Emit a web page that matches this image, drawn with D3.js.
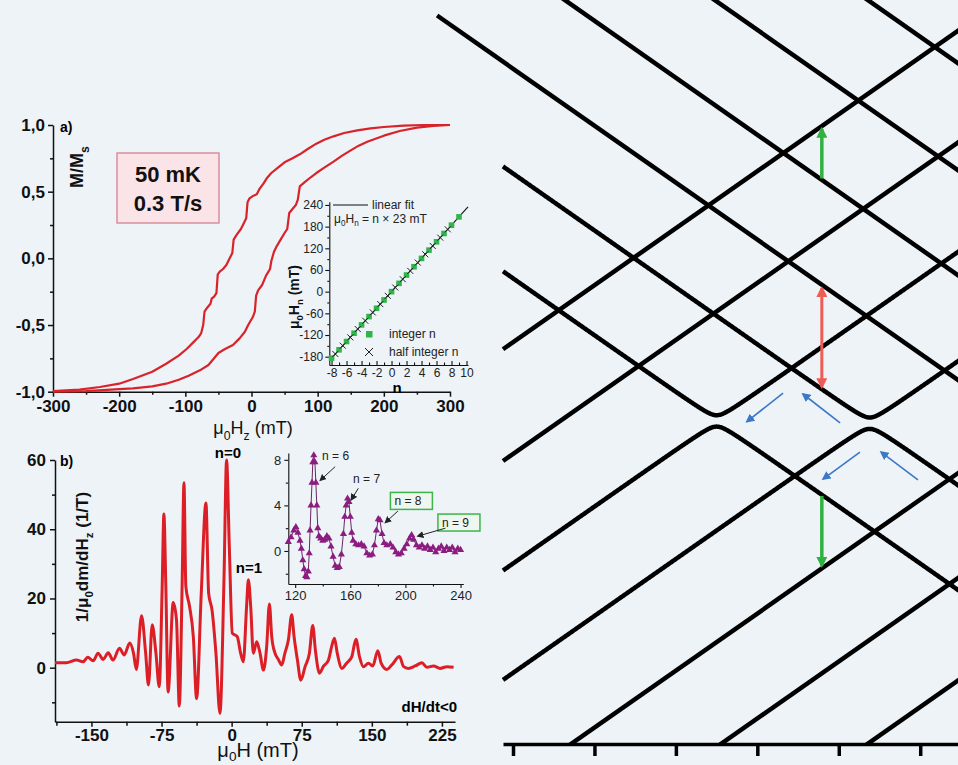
<!DOCTYPE html>
<html lang="en">
<head>
<meta charset="UTF-8">
<title>Ho:LiYF4 hysteresis and level diagram</title>
<script src="https://d3js.org/d3.v7.min.js"></script>
<style>
  body { margin: 0; background: #edf3f7; }
</style>
</head>
<body>
<script>
// ---------- data ----------
// a) hysteresis loop (mT, M/Ms)
var downH = [-300,-260,-229,-200,-179,-150,-129,-110,-98,-88,-80,-76,-73,-71,-67,-62,-60,-57,-53,-51,
             -48,-43,-38,-33,-29,-27,-22,-16,-12,-8,-6,-3,3,8,12,18,23,30,40,50,
             62,73,85,98,110,124,140,160,180,200,230,260,300];
var downM = [-0.995,-0.985,-0.965,-0.94,-0.905,-0.85,-0.79,-0.73,-0.68,-0.63,-0.59,-0.56,-0.50,-0.40,-0.37,-0.34,-0.30,-0.29,-0.26,-0.12,
             -0.10,-0.08,-0.05,0.0,0.04,0.14,0.18,0.22,0.26,0.30,0.42,0.45,0.47,0.48,0.52,0.56,0.60,0.64,0.68,0.72,
             0.75,0.78,0.82,0.86,0.89,0.915,0.94,0.96,0.975,0.985,0.995,1.0,1.0];
var upH = [-300,-250,-200,-179,-150,-129,-110,-95,-78,-65,-55,-50,-40,-28,-18,-10,-5,2,5,7,
           10,16,22,28,30,34,38,44,50,54,57,62,67,70,73,80,90,98,110,124,
           137,150,162,175,200,224,250,275,300];
var upM = [-1.0,-0.995,-0.98,-0.975,-0.96,-0.94,-0.91,-0.88,-0.84,-0.80,-0.74,-0.71,-0.68,-0.65,-0.60,-0.55,-0.50,-0.44,-0.40,-0.28,
           -0.24,-0.20,-0.13,-0.08,-0.02,0.05,0.09,0.14,0.19,0.22,0.34,0.37,0.40,0.44,0.54,0.57,0.61,0.64,0.68,0.725,
           0.77,0.81,0.845,0.875,0.92,0.955,0.98,0.993,1.0];
var aXTicks = [-300,-200,-100,0,100,200,300];
var aXMinor = [-250,-150,-50,50,150,250];
var aYTicks = [-1,-0.5,0,0.5,1];
var aYMinor = [-0.75,-0.25,0.25,0.75];

// a) inset: resonance fields
var intN = [-8,-7,-6,-5,-4,-3,-2,-1,0,1,2,3,4,5,6,7,8,9];
var intField = [-184,-161,-138,-115,-92,-69,-46,-23,0,23,46,69,92,115,138,161,184,207];
var halfN = [-7.5,-6.5,-5.5,-4.5,-3.5,-2.5,-1.5,-0.5,0.5,1.5,2.5,3.5,4.5,5.5,6.5,7.5];
var halfField = [-172.5,-149.5,-126.5,-103.5,-80.5,-57.5,-34.5,-11.5,11.5,34.5,57.5,80.5,103.5,126.5,149.5,172.5];
var fitN = [-8.3, 10.2];
var fitField = [-191, 235];
var iXTicks = [-8,-6,-4,-2,0,2,4,6,8,10];
var iYTicks = [-180,-120,-60,0,60,120,180,240];

// b) derivative dM/dH
var bField = [-189,-177,-166,-159,-154,-148,-143,-137.5,-132,-127,-120,-115,-109,-105,-102,-96.4,-92,-89,-85,-81,
              -77.5,-74.3,-72.5,-70.4,-68,-62.5,-59,-56,-53,-51,-49,-45,-41,-37.5,-32.5,-27.5,-24.6,-21,-16.8,-12.5,
              -8.2,-5.4,-2.5,0.7,6,9.6,12.5,16,17.9,20.4,23.2,26.8,30.4,34,37.5,40.4,42.9,46.4,50,53.6,
              57,60.7,64.3,66.8,70.4,74,78.6,83.2,86.8,89.6,94,98,103.6,107,110,113,118,123,128.6,133,
              136.8,141,146.4,151,156.4,160,166,171.4,179.6,184,189,196.4,203.6,209,216,223,230.4,237.5];
var bSignal = [1.4,1.4,2.2,1.7,3.0,2.0,4.2,2.4,4.3,2.2,5.6,3.7,7.1,4.2,-0.5,15.0,4.2,-5.0,12.4,4.2,
               -5.5,23.5,44.4,23.5,-7.0,18.8,13.8,-11.1,23.5,53.4,23.5,17.7,9.0,-8.9,21.5,47.6,21.5,16.7,4.2,-13.2,
               25.4,60.0,35.1,10.0,9.0,4.2,1.7,17.7,25.4,17.7,4.2,7.5,4.2,-0.7,6.1,18.4,9.0,4.2,2.4,0.8,
               4.2,8.0,15.3,9.0,2.2,-3.6,0.3,4.2,12.2,5.1,-1.6,0.3,2.2,6.1,8.5,4.2,-0.2,1.3,3.2,8.2,
               3.2,0.3,1.3,0.5,4.9,1.3,-0.5,0.8,3.2,0.3,-0.2,0.5,1.4,0.1,0.5,-0.2,0.3,0.1];
var bXTicks = [-150,-75,0,75,150,225];
var bXMinor = [-187.5,-112.5,-37.5,37.5,112.5,187.5];
var bYTicks = [0,20,40,60];
var bYMinor = [-10,10,30,50];

// b) inset, zoom on n = 6..9
var cField = [115,117,119,120.5,122,123.5,124.5,125.5,126.5,127.5,
              128.5,129.5,130.2,130.8,131.5,132.2,132.8,133.5,134.3,135,
              135.7,136.4,137.2,138.5,140,141.5,143,144.5,146,147.5,
              149,150.5,152,153.5,155,156,157,158,159,160,
              161,162,164,166,168,170,172,174,176,177.5,
              179,180.3,181.5,183,184.5,186.5,189,191,193,195,
              197,199,201,203,204.5,206,208,210,212,214,
              216,218,220,222,224,226,228,230,232,234,
              236,238,240];
var cSignal = [0.8,1.2,1.8,2.1,1.6,0.9,0.2,-0.8,-1.6,-2.2,
               -2.3,-1.8,-0.2,1.8,4.0,6.0,7.8,8.4,7.8,6.0,
               4.0,2.0,1.3,1.1,0.9,1.0,1.3,1.1,0.4,-0.5,
               -1.3,-1.5,-1.4,-0.3,1.5,3.0,4.0,4.6,4.3,3.0,
               1.6,0.9,0.6,0.5,0.6,0.4,-0.2,-0.4,-0.3,0.5,
               1.8,2.8,2.7,1.5,0.7,0.5,0.6,0.3,-0.1,-0.3,
               -0.2,0.2,0.6,1.1,1.4,1.0,0.5,0.3,0.5,0.2,
               0.4,0.1,0.3,-0.1,0.2,0.4,0.0,0.3,0.1,0.3,
               -0.1,0.2,0.1];
var cXTicks = [120,160,200,240];
var cXMinor = [140,180,220];
var cYTicks = [0,4,8];
var cYMinor = [-2,2,6];
var peakLabels = ["n = 6", "n = 7", "n = 8", "n = 9"];
var peakBoxed = [false, false, true, true];
var labelField = [139.5, 162, 192, 226.5];
var labelSignal = [8.0, 6.0, 4.0, 2.1];
var tailField = [149, 165.8, 194.5, 229];
var tailSignal = [7.4, 5.5, 3.5, 2.0];
var tipField = [138.2, 160.7, 185.5, 209];
var tipSignal = [6.2, 4.5, 2.5, 1.3];

// right: energy levels E = c - H (falling) and E = c + H (rising)
var fallingLevels = [63, 109, 155, 201, 247, 294];
var risingLevels = [35, -14, -62, -110, -159, -205, -250];
var avoidedPairs = [[63, -62], [109, -110]];   // [falling, rising]
var tunnelGap = 2.5;
var longLevel = 155, longStart = -23.3;
var zTicks = [0, 25, 50, 75, 100, 125];
var transField = 94.8;
var transFrom = [201, 155, 63];
var transFromKind = ["fall", "fall", "fall"];
var transTo = [35, 109, -159];
var transToKind = ["rise", "fall", "rise"];
var transColor = ["#2fb23f", "#ef5b55", "#2fb23f"];
var transBoth = [false, true, false];
var blueFrom = [[82.9, 12.7], [100.4, -0.4], [106.5, -13.2], [124.3, -25.4]];
var blueTo = [[71.8, 0.2], [89.0, 12.3], [95.2, -25.0], [113.0, -13.2]];

// ---------- drawing ----------
var FONT = '"Liberation Sans", Arial, sans-serif';
var svg = d3.select("body").append("svg").attr("width", 958).attr("height", 765);
svg.append("rect").attr("width", 958).attr("height", 765).attr("fill", "#edf3f7");
var defs = svg.append("defs");

function marker(id, color, size) {
  defs.append("marker").attr("id", id).attr("viewBox", "0 0 10 10")
    .attr("refX", 8).attr("refY", 5).attr("markerWidth", size).attr("markerHeight", size)
    .attr("markerUnits", "userSpaceOnUse").attr("orient", "auto-start-reverse")
    .append("path").attr("d", "M0,0 L10,5 L0,10 z").attr("fill", color);
}
marker("hGreen", "#2fb23f", 11);
marker("hRed", "#ef5b55", 11);
marker("hBlue", "#3b78c6", 9);
marker("hBlack", "#222", 7);

function axis(fn, scale, major, minor, tr, o) {
  var gm = svg.append("g").attr("transform", "translate(" + tr + ")")
    .call(fn(scale).tickValues(minor).tickSize(o.minorSize).tickFormat("").tickSizeOuter(0));
  gm.select(".domain").remove();
  gm.selectAll("line").attr("stroke", "#111").attr("stroke-width", o.width);
  var g = svg.append("g").attr("transform", "translate(" + tr + ")")
    .call(fn(scale).tickValues(major).tickSize(o.majorSize).tickPadding(o.pad)
      .tickFormat(o.fmt || String).tickSizeOuter(0));
  g.attr("font-family", FONT).attr("font-size", o.size).attr("font-weight", o.weight);
  g.select(".domain").attr("stroke", "#111").attr("stroke-width", o.width);
  g.selectAll("line").attr("stroke", "#111").attr("stroke-width", o.width);
  g.selectAll("text").attr("fill", o.color || "#111");
  return g;
}

function richText(x, y, parts, o) {
  var t = svg.append("text").attr("x", x).attr("y", y)
    .attr("font-family", FONT).attr("font-size", o.size).attr("font-weight", o.weight || "normal")
    .attr("text-anchor", o.anchor || "start").attr("fill", o.color || "#111");
  if (o.rotate) t.attr("transform", "rotate(" + o.rotate + "," + x + "," + y + ")");
  var shift = 0;
  parts.forEach(function (p) {
    var target = p[1] ? o.size * (o.sub || 0.32) : 0;
    var s = t.append("tspan").text(p[0]).attr("dy", target - shift);
    if (p[1]) s.attr("font-size", o.size * 0.68);
    shift = target;
  });
  return t;
}

// ===== panel a =====
var xA = d3.scaleLinear().domain([-300, 300]).range([53, 450]);
var yA = d3.scaleLinear().domain([-1, 1]).range([391.7, 125]);
var commaFmt = function (d) { return (d < 0 ? "-" : "") + Math.abs(d).toFixed(1).replace(".", ","); };
axis(d3.axisBottom, xA, aXTicks, aXMinor, "0,391.7", {majorSize: 5, minorSize: 3, pad: 3, width: 1.5, size: 17, weight: "bold"});
axis(d3.axisLeft, yA, aYTicks, aYMinor, "53,0", {majorSize: 5, minorSize: 3, pad: 3, width: 1.5, size: 17, weight: "bold", fmt: commaFmt});

var lineA = d3.line().x(function (d) { return xA(d[0]); }).y(function (d) { return yA(d[1]); });
[d3.zip(downH, downM), d3.zip(upH, upM)].forEach(function (pts) {
  svg.append("path").attr("d", lineA(pts)).attr("fill", "none")
    .attr("stroke", "#d8232a").attr("stroke-width", 2.2).attr("stroke-linejoin", "round");
});

svg.append("text").attr("x", 60).attr("y", 132).text("a)")
  .attr("font-family", FONT).attr("font-size", 14).attr("font-weight", "bold");
richText(83, 167, [["M/M"], ["s", 1]], {size: 18, weight: "bold", anchor: "middle", rotate: -90});
richText(253, 434, [["μ"], ["0", 1], ["H"], ["z", 1], [" (mT)"]], {size: 18, anchor: "middle"});

svg.append("rect").attr("x", 117).attr("y", 153).attr("width", 102).attr("height", 70)
  .attr("fill", "#fbe4e7").attr("stroke", "#d98f9c").attr("stroke-width", 1.5);
svg.append("text").attr("x", 168).attr("y", 182).text("50 mK").attr("text-anchor", "middle")
  .attr("font-family", FONT).attr("font-size", 22).attr("font-weight", "bold").attr("fill", "#111");
svg.append("text").attr("x", 168).attr("y", 211).text("0.3 T/s").attr("text-anchor", "middle")
  .attr("font-family", FONT).attr("font-size", 22).attr("font-weight", "bold").attr("fill", "#111");

// a) inset
var xI = d3.scaleLinear().domain([-8.3, 10.2]).range([329.3, 468]);
var yI = d3.scaleLinear().domain([-203, 249]).range([365, 201.7]);
axis(d3.axisBottom, xI, iXTicks, d3.range(-7, 10, 2), "0,365", {majorSize: -4, minorSize: -2.5, pad: 3, width: 1.1, size: 12, weight: "normal", color: "#222"});
axis(d3.axisLeft, yI, iYTicks, [-150,-90,-30,30,90,150,210], "329.3,0", {majorSize: 4, minorSize: 2, pad: 2, width: 1.1, size: 12, weight: "normal", color: "#222"});

var lineI = d3.line().x(function (d) { return xI(d[0]); }).y(function (d) { return yI(d[1]); });
svg.append("path").attr("d", lineI(d3.zip(fitN, fitField))).attr("stroke", "#111").attr("stroke-width", 1.1).attr("fill", "none");
svg.append("g").selectAll("rect").data(d3.zip(intN, intField)).join("rect")
  .attr("x", function (d) { return xI(d[0]) - 2.8; }).attr("y", function (d) { return yI(d[1]) - 2.8; })
  .attr("width", 5.6).attr("height", 5.6).attr("fill", "#2fb54a");
var crossG = svg.append("g").attr("stroke", "#222").attr("stroke-width", 1);
d3.zip(halfN, halfField).forEach(function (d) {
  var cx = xI(d[0]), cy = yI(d[1]);
  crossG.append("line").attr("x1", cx - 3).attr("y1", cy - 3).attr("x2", cx + 3).attr("y2", cy + 3);
  crossG.append("line").attr("x1", cx - 3).attr("y1", cy + 3).attr("x2", cx + 3).attr("y2", cy - 3);
});
svg.append("line").attr("x1", 333).attr("x2", 368).attr("y1", 205).attr("y2", 205).attr("stroke", "#111").attr("stroke-width", 1.1);
svg.append("text").attr("x", 372).attr("y", 209).text("linear fit")
  .attr("font-family", FONT).attr("font-size", 12).attr("fill", "#222");
richText(334, 223, [["μ"], ["0", 1], ["H"], ["n", 1], [" = n × 23 mT"]], {size: 12, color: "#222", sub: 0.25});
svg.append("rect").attr("x", 366).attr("y", 331).attr("width", 6.5).attr("height", 6.5).attr("fill", "#2fb54a");
svg.append("text").attr("x", 389).attr("y", 338).text("integer n")
  .attr("font-family", FONT).attr("font-size", 12).attr("fill", "#222");
crossG.append("line").attr("x1", 365).attr("y1", 348).attr("x2", 373).attr("y2", 356);
crossG.append("line").attr("x1", 365).attr("y1", 356).attr("x2", 373).attr("y2", 348);
svg.append("text").attr("x", 389).attr("y", 356).text("half integer n")
  .attr("font-family", FONT).attr("font-size", 12).attr("fill", "#222");
svg.append("text").attr("x", 397).attr("y", 393).text("n").attr("text-anchor", "middle")
  .attr("font-family", FONT).attr("font-size", 15).attr("font-weight", "bold");
richText(299, 297, [["μ"], ["0", 1], ["H"], ["n", 1], [" (mT)"]], {size: 14, weight: "bold", anchor: "middle", rotate: -90});

// ===== panel b =====
var xB = d3.scaleLinear().domain([-189, 239]).range([55, 455]);
var yB = d3.scaleLinear().domain([-15.6, 60]).range([721.7, 460]);
axis(d3.axisBottom, xB, bXTicks, bXMinor, "0,721.7", {majorSize: 5, minorSize: 4, pad: 2, width: 1.5, size: 17, weight: "bold"});
axis(d3.axisLeft, yB, bYTicks, bYMinor, "55,0", {majorSize: 5, minorSize: 3, pad: 4, width: 1.5, size: 17, weight: "bold"});

var lineB = d3.line().curve(d3.curveMonotoneX)
  .x(function (d) { return xB(d[0]); }).y(function (d) { return yB(d[1]); });
svg.append("path").attr("d", lineB(d3.zip(bField, bSignal))).attr("fill", "none")
  .attr("stroke", "#dc1f26").attr("stroke-width", 3).attr("stroke-linejoin", "round");

svg.append("text").attr("x", 60).attr("y", 466).text("b)")
  .attr("font-family", FONT).attr("font-size", 14).attr("font-weight", "bold");
svg.append("text").attr("x", 228).attr("y", 458).text("n=0").attr("text-anchor", "middle")
  .attr("font-family", FONT).attr("font-size", 15).attr("font-weight", "bold");
svg.append("text").attr("x", 249).attr("y", 573).text("n=1").attr("text-anchor", "middle")
  .attr("font-family", FONT).attr("font-size", 15).attr("font-weight", "bold");
svg.append("text").attr("x", 457).attr("y", 712).text("dH/dt<0").attr("text-anchor", "end")
  .attr("font-family", FONT).attr("font-size", 15).attr("font-weight", "bold");
richText(258, 757, [["μ"], ["0", 1], ["H"], ["  (mT)"]], {size: 20, anchor: "middle", sub: 0.2});
richText(88, 557, [["1/μ"], ["0", 1], ["dm/dH"], ["z", 1], [" (1/T)"]], {size: 17, weight: "bold", anchor: "middle", rotate: -90});

// b) inset
var xC = d3.scaleLinear().domain([115, 242]).range([288.3, 463.3]);
var yC = d3.scaleLinear().domain([-2.9, 8.6]).range([584, 453]);
axis(d3.axisBottom, xC, cXTicks, cXMinor, "0,584", {majorSize: 4, minorSize: 2.5, pad: 3, width: 1.1, size: 13, weight: "normal", color: "#222"});
axis(d3.axisLeft, yC, cYTicks, cYMinor, "288.3,0", {majorSize: 4, minorSize: 2.5, pad: 3, width: 1.1, size: 13, weight: "normal", color: "#222"});

var cPts = d3.zip(cField, cSignal);
var lineC = d3.line().x(function (d) { return xC(d[0]); }).y(function (d) { return yC(d[1]); });
svg.append("path").attr("d", lineC(cPts)).attr("fill", "none").attr("stroke", "#5a1050").attr("stroke-width", 0.9);
svg.append("g").selectAll("path").data(cPts).join("path")
  .attr("d", d3.symbol(d3.symbolTriangle, 22))
  .attr("transform", function (d) { return "translate(" + xC(d[0]) + "," + yC(d[1]) + ")"; })
  .attr("fill", "#8c1c80");

peakLabels.forEach(function (lab, i) {
  var lx = xC(labelField[i]), ly = yC(labelSignal[i]);
  if (peakBoxed[i]) {
    svg.append("rect").attr("x", lx - 4).attr("y", ly - 13).attr("width", 42).attr("height", 17)
      .attr("fill", "#eef6ef").attr("stroke", "#3cb54a").attr("stroke-width", 1.5);
  }
  svg.append("text").attr("x", lx).attr("y", ly).text(lab)
    .attr("font-family", FONT).attr("font-size", 12).attr("fill", "#222");
  svg.append("line").attr("x1", xC(tailField[i])).attr("y1", yC(tailSignal[i]))
    .attr("x2", xC(tipField[i])).attr("y2", yC(tipSignal[i]))
    .attr("stroke", "#222").attr("stroke-width", 1).attr("marker-end", "url(#hBlack)");
});

// ===== right: level diagram =====
var xE = d3.scaleLinear().domain([-3.07, 136.6]).range([503, 958]);
var yE = d3.scaleLinear().domain([-141.2, 185.1]).range([744, 0]);
defs.append("clipPath").attr("id", "zclip").append("rect")
  .attr("x", 430).attr("y", 0).attr("width", 528).attr("height", 744);

var zLine = d3.line().x(function (d) { return xE(d[0]); }).y(function (d) { return yE(d[1]); });
var zg = svg.append("g").attr("clip-path", "url(#zclip)").attr("fill", "none")
  .attr("stroke", "#000").attr("stroke-width", 4.5).attr("stroke-linejoin", "round");
var hFirst = xE.domain()[0], hLast = xE.domain()[1] + 5;
var pairedFall = avoidedPairs.map(function (p) { return p[0]; });
var pairedRise = avoidedPairs.map(function (p) { return p[1]; });

fallingLevels.forEach(function (c) {
  if (pairedFall.indexOf(c) >= 0) return;
  var h0 = c === longLevel ? longStart : hFirst;
  zg.append("path").attr("d", zLine([[h0, c - h0], [hLast, c - hLast]]));
});
risingLevels.forEach(function (c) {
  if (pairedRise.indexOf(c) >= 0) return;
  zg.append("path").attr("d", zLine([[hFirst, c + hFirst], [hLast, c + hLast]]));
});
var hGrid = d3.range(hFirst, hLast, 0.2);
avoidedPairs.forEach(function (p) {
  var mid = (p[0] + p[1]) / 2, hx = (p[0] - p[1]) / 2;
  [1, -1].forEach(function (sgn) {
    zg.append("path").attr("d", zLine(hGrid.map(function (h) {
      return [h, mid + sgn * Math.sqrt((hx - h) * (hx - h) + tunnelGap * tunnelGap)];
    })));
  });
});

function levelAt(kind, c, h) { return kind === "fall" ? c - h : c + h; }
transFrom.forEach(function (c, i) {
  var e0 = levelAt(transFromKind[i], c, transField);
  var e1 = levelAt(transToKind[i], transTo[i], transField);
  var dir = e1 > e0 ? 1 : -1;
  var head = transColor[i] === "#ef5b55" ? "url(#hRed)" : "url(#hGreen)";
  var l = svg.append("line")
    .attr("x1", xE(transField)).attr("y1", yE(e0 + dir * (transBoth[i] ? 1.5 : 0.6)))
    .attr("x2", xE(transField)).attr("y2", yE(e1 - dir * 1.2))
    .attr("stroke", transColor[i]).attr("stroke-width", transBoth[i] ? 3 : 3.5)
    .attr("marker-end", head);
  if (transBoth[i]) l.attr("marker-start", head);
});

blueFrom.forEach(function (f, i) {
  svg.append("line").attr("x1", xE(f[0])).attr("y1", yE(f[1]))
    .attr("x2", xE(blueTo[i][0])).attr("y2", yE(blueTo[i][1]))
    .attr("stroke", "#3b78c6").attr("stroke-width", 1.6).attr("marker-end", "url(#hBlue)");
});

var zAxis = svg.append("g").attr("transform", "translate(0,744)")
  .call(d3.axisBottom(xE).tickValues(zTicks).tickSize(12).tickFormat("").tickSizeOuter(0));
zAxis.select(".domain").attr("stroke", "#000").attr("stroke-width", 3.5);
zAxis.selectAll("line").attr("stroke", "#000").attr("stroke-width", 3.5);
</script>
</body>
</html>
